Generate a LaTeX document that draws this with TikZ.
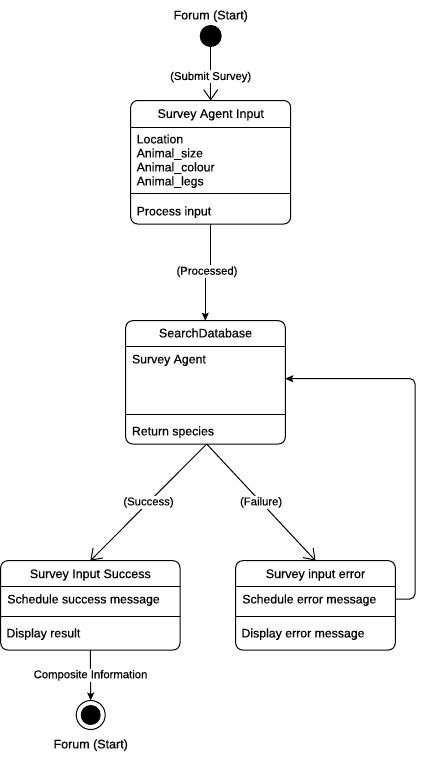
\documentclass[tikz,border=0pt]{standalone}
\usepackage{fontspec}
\setmainfont{Liberation Sans}
\newfontfamily\medfont{Liberation Sans}[FakeBold=0.35]
\usetikzlibrary{arrows.meta}
\begin{document}
\begin{tikzpicture}[x=1pt,y=-1pt,
  every node/.style={inner sep=0pt, outer sep=0pt},
  statebox/.style={draw, line width=1pt, rounded corners=7pt, anchor=north west},
  sepline/.style={line width=1pt},
  btxt/.style={font=\medfont\fontsize{12.3pt}{14pt}\selectfont, text height=8.8pt, text depth=0pt, anchor=west},
  ttxt/.style={font=\medfont\fontsize{12.5pt}{14pt}\selectfont, text height=8.8pt, text depth=0pt, anchor=center},
  elabel/.style={font=\medfont\fontsize{11.3pt}{13pt}\selectfont, fill=white, inner sep=1.5pt, text height=8pt, text depth=2pt},
  conn/.style={line width=1pt},
  openarrow/.style={conn, -{Straight Barb[length=10pt,width=14pt,line width=1pt]}},
  filledarrow/.style={conn, -{Stealth[length=8pt,width=7pt,inset=1.5pt]}}
]
\useasboundingbox (0,0) rectangle (424,760);

% start
\node[ttxt] (startlbl) at (210.7,15) {Forum (Start)};
\node[circle, fill=black, minimum size=22pt] (start) at (210.7,36) {};

% box 1
\node[statebox, minimum width=160pt, minimum height=123.5pt] (b1) at (130.7,100.5) {};
\draw[sepline] (130.7,127) -- (290.7,127);
\draw[sepline] (130.7,193) -- (290.7,193);
\node[ttxt] (b1t) at (210.7,113.5) {Survey Agent Input};
\node[btxt] (b1a) at (136.7,139) {Location};
\node[btxt] (b1b) at (136.7,153) {Animal\_size};
\node[btxt] (b1c) at (136.7,167) {Animal\_colour};
\node[btxt] (b1d) at (136.7,181) {Animal\_legs};
\node[btxt] (b1e) at (136.7,211) {Process input};

% box 2
\node[statebox, minimum width=159.6pt, minimum height=123.3pt] (b2) at (125.7,320.7) {};
\draw[sepline] (125.7,346.7) -- (285.3,346.7);
\draw[sepline] (125.7,414.3) -- (285.3,414.3);
\node[ttxt] (b2t) at (205.5,333) {SearchDatabase};
\node[btxt] (b2a) at (132,359) {Survey Agent};
\node[btxt] (b2b) at (132,431) {Return species};

% box 3
\node[statebox, minimum width=179.3pt, minimum height=89.3pt] (b3) at (0.7,560.7) {};
\draw[sepline] (0.7,586) -- (180,586);
\draw[sepline] (0.7,616) -- (180,616);
\node[ttxt] (b3t) at (90.3,573.7) {Survey Input Success};
\node[btxt] (b3a) at (7.3,599) {Schedule success message};
\node[btxt] (b3b) at (6.5,633) {Display result};

% box 4
\node[statebox, minimum width=159.6pt, minimum height=89.3pt] (b4) at (235.7,560.7) {};
\draw[sepline] (235.7,586) -- (395.3,586);
\draw[sepline] (235.7,616) -- (395.3,616);
\node[ttxt] (b4t) at (315.5,573.7) {Survey input error};
\node[btxt] (b4a) at (242.3,599) {Schedule error message};
\node[btxt] (b4b) at (241.5,633) {Display error message};

% end
\node[circle, draw, line width=1pt, minimum size=29pt] (endo) at (90.7,715) {};
\node[circle, fill=black, minimum size=20pt] (endi) at (90.7,715) {};
\node[ttxt] (endlbl) at (90.7,744) {Forum (Start)};

% connectors
\draw[openarrow] (start) -- (b1.north) node[elabel, pos=0.56] (l1) {(Submit Survey)};
\coordinate (p1) at (b1.south);
\coordinate (p2) at (210.7,271.7);
\coordinate (p3) at (205.3,271.7);
\coordinate (p4) at (205.3,320.7);
\draw[filledarrow] (p1) -- (p2) -- (p3) -- (p4);
\node[elabel] (l2) at (207,271.7) {(Processed)};

\coordinate (b2s) at (206.7,444);
\draw[openarrow] (b2s) -- (b3.north) node[elabel, pos=0.5] (l3) {(Success)};
\draw[openarrow] (b2s) -- (b4.north) node[elabel, pos=0.5] (l4) {(Failure)};

\coordinate (fb1) at (415,599);
\coordinate (fb2) at (415,378.7);
\draw[filledarrow, rounded corners=5pt] (b4.east |- b4a) -- (fb1) -- (fb2) -- (b2.east |- fb2);

\draw[filledarrow] (b3.south) -- (endo.north) node[elabel, pos=0.5] (l5) {Composite Information};
\end{tikzpicture}
\end{document}
